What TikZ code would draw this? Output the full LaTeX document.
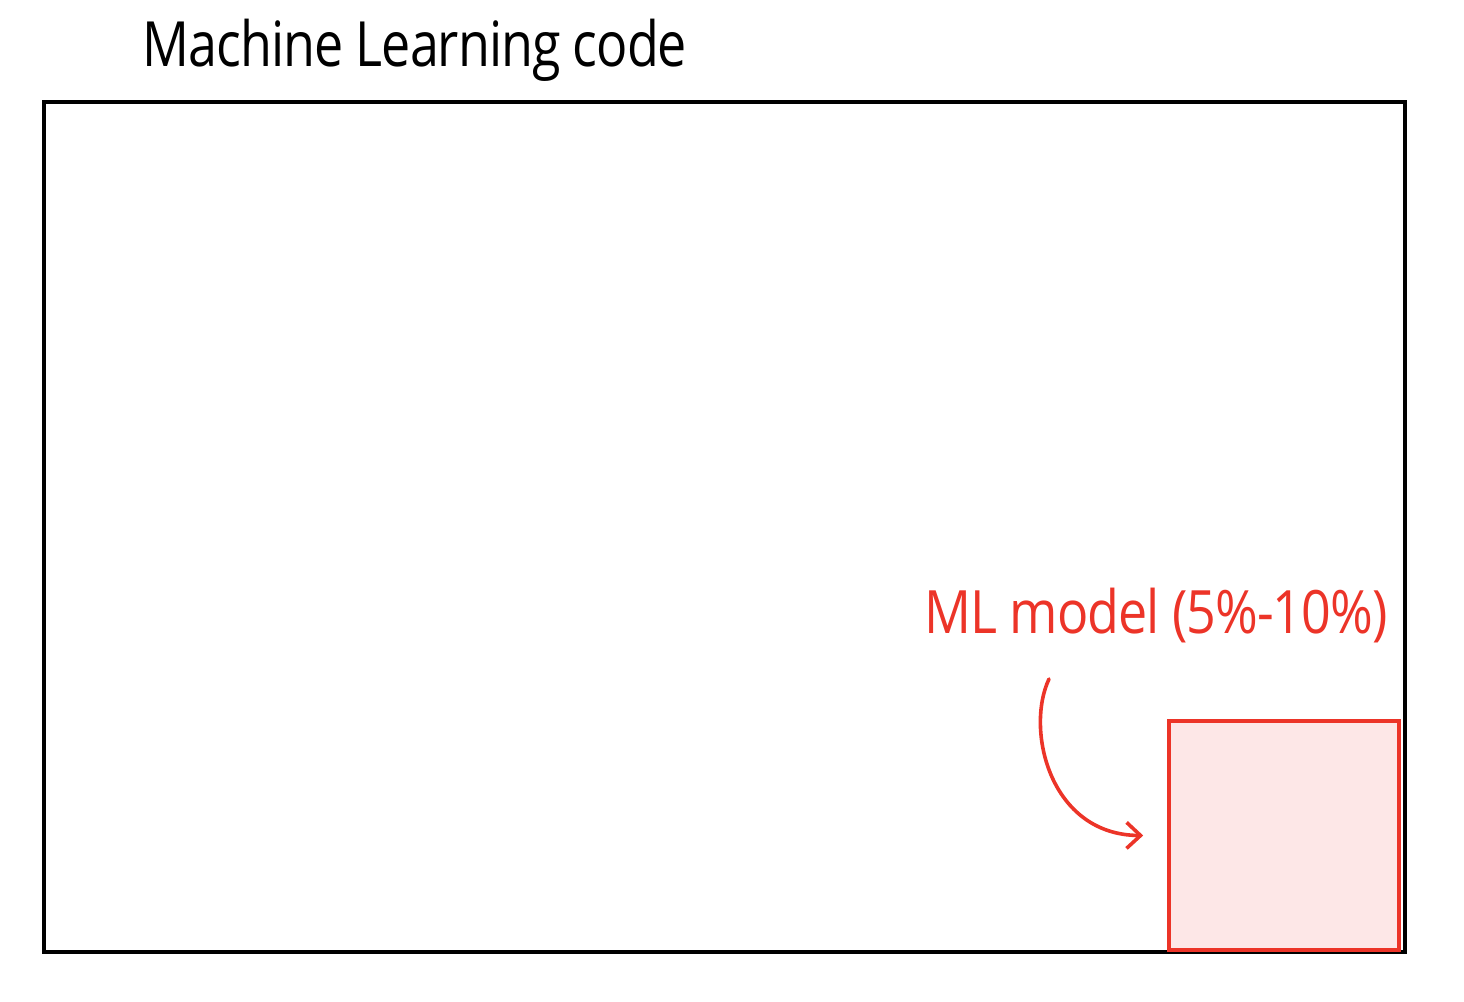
\documentclass[tikz,border=0pt]{standalone}
\usepackage{fontspec}
\setmainfont{Open Sans}
\usetikzlibrary{arrows.meta}
\definecolor{mlred}{RGB}{236,52,40}
\definecolor{mlpink}{RGB}{253,231,231}
\begin{document}
\begin{tikzpicture}[x=0.5pt,y=-0.5pt,
  codebox/.style={draw=black,line width=1.8pt,rectangle,minimum width=680.5pt,minimum height=425pt,inner sep=0pt},
  modelbox/.style={draw=mlred,fill=mlpink,line width=1.8pt,rectangle,minimum width=115pt,minimum height=114.5pt,inner sep=0pt},
  handtitle/.style={font=\fontsize{26}{30}\selectfont\addfontfeatures{LetterSpace=-2},text=black,inner sep=0pt,yscale=1.2},
  handlabel/.style={font=\fontsize{26}{30}\selectfont\addfontfeatures{LetterSpace=-2},text=mlred,inner sep=0pt,yscale=1.15},
  pointer/.style={draw=mlred,line width=1.8pt,line cap=round,-{Straight Barb[length=7pt,width=13pt,line width=1.8pt]}}]
\useasboundingbox (0,0) rectangle (1464,1002);
\node[codebox] (code) at (724.5,527) {};
\node[modelbox] (model) at (1284,835.5) {};
\node[handtitle] (title) at (415,50) {Machine Learning code};
\node[handlabel] (label) at (1156,616) {ML model (5\%-10\%)};
\coordinate (start) at (1049,679);
\draw[pointer] (start) .. controls (1025,730) and (1050,835) .. ([xshift=-12pt]model.west);
\end{tikzpicture}
\end{document}
